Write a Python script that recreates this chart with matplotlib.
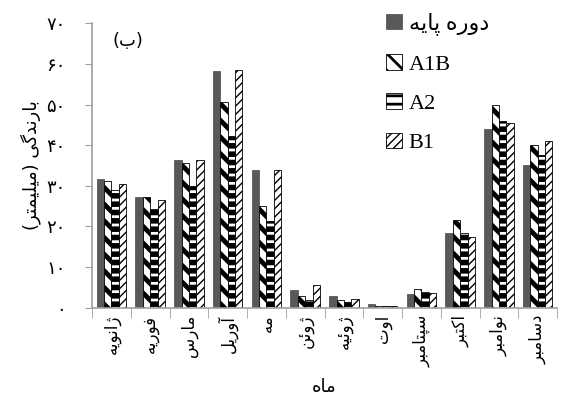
import numpy as np
import matplotlib.pyplot as plt
from matplotlib.patches import Patch

# simple Persian shaping (matplotlib has no RTL / joining support)
forms = {
    'ا': ('\uFE8D', '\uFE8E', None, None),
    'آ': ('\uFE81', '\uFE82', None, None),
    'ب': ('\uFE8F', '\uFE90', '\uFE91', '\uFE92'),
    'پ': ('\uFB56', '\uFB57', '\uFB58', '\uFB59'),
    'ت': ('\uFE95', '\uFE96', '\uFE97', '\uFE98'),
    'ث': ('\uFE99', '\uFE9A', '\uFE9B', '\uFE9C'),
    'د': ('\uFEA9', '\uFEAA', None, None),
    'ر': ('\uFEAD', '\uFEAE', None, None),
    'ز': ('\uFEAF', '\uFEB0', None, None),
    'ژ': ('\uFB8A', '\uFB8B', None, None),
    'س': ('\uFEB1', '\uFEB2', '\uFEB3', '\uFEB4'),
    'ف': ('\uFED1', '\uFED2', '\uFED3', '\uFED4'),
    'ک': ('\uFB8E', '\uFB8F', '\uFB90', '\uFB91'),
    'گ': ('\uFB92', '\uFB93', '\uFB94', '\uFB95'),
    'ل': ('\uFEDD', '\uFEDE', '\uFEDF', '\uFEE0'),
    'م': ('\uFEE1', '\uFEE2', '\uFEE3', '\uFEE4'),
    'ن': ('\uFEE5', '\uFEE6', '\uFEE7', '\uFEE8'),
    'و': ('\uFEED', '\uFEEE', None, None),
    'ه': ('\uFEE9', '\uFEEA', '\uFEEB', '\uFEEC'),
    'ی': ('\uFBFC', '\uFBFD', '\uFBFE', '\uFBFF'),
    'ئ': ('\uFE89', '\uFE8A', '\uFE8B', '\uFE8C'),
}


def fa(text):
    if not any(c in forms for c in text):
        return text
    out = []
    for i, c in enumerate(text):
        if c not in forms:
            out.append(c)
            continue
        prev = text[i - 1] if i > 0 else ''
        nxt = text[i + 1] if i + 1 < len(text) else ''
        j_prev = prev in forms and forms[prev][2] is not None
        j_next = forms[c][2] is not None and nxt in forms
        f = forms[c]
        if j_prev and j_next:
            out.append(f[3])
        elif j_prev:
            out.append(f[1])
        elif j_next:
            out.append(f[2])
        else:
            out.append(f[0])
    s = ''.join(out)[::-1]
    return s.translate(str.maketrans('()', ')('))


months = ['ژانویه', 'فوریه', 'مارس', 'آوریل', 'مه', 'ژوئن', 'ژوئیه', 'اوت',
          'سپتامبر', 'اکتبر', 'نوامبر', 'دسامبر']
base = [31.7, 27.3, 36.3, 58.2, 33.8, 4.3, 2.9, 0.8, 3.4, 18.4, 44.1, 35.1]
a1b = [31.2, 27.3, 35.7, 50.7, 25.0, 2.8, 1.9, 0.5, 4.7, 21.7, 50.0, 40.0]
a2 = [29.0, 24.4, 30.0, 42.4, 21.3, 1.9, 1.3, 0.4, 3.9, 18.5, 45.9, 37.6]
b1 = [30.5, 26.6, 36.3, 58.6, 34.0, 5.7, 2.1, 0.3, 3.6, 17.5, 45.6, 41.0]
yticks = [0, 10, 20, 30, 40, 50, 60, 70]
ytick_labels = ['۰', '۱۰', '۲۰', '۳۰', '۴۰', '۵۰', '۶۰', '۷۰']

plt.rcParams['font.family'] = ['Liberation Serif', 'DejaVu Sans']

fig = plt.figure(figsize=(5.61, 3.98), dpi=100)
ax = fig.add_axes([0.164, 0.227, 0.829, 0.714])

x = np.arange(len(months))
w = 0.19
series = [(base, None, '#595959', '#595959', 'دوره پایه', 1.0),
          (a1b, '\\\\', 'white', 'black', 'A1B', 3.5),
          (a2, '--', 'white', 'black', 'A2', 4.0),
          (b1, '////', 'white', 'black', 'B1', 1.0)]
handles = []
for k, (vals, hatch, fc, ec, name, hlw) in enumerate(series):
    bars = ax.bar(x + (k - 1.5) * w, vals, w, color=fc, edgecolor=ec,
                  hatch=hatch, linewidth=0.6)
    for b in bars:
        if hasattr(b, 'set_hatch_linewidth'):
            b.set_hatch_linewidth(hlw)
    handles.append(Patch(facecolor=fc, edgecolor=ec, hatch=hatch,
                         linewidth=0.6, label=fa(name)))

ax.set_xlim(-0.5, len(months) - 0.5)
ax.set_ylim(0, 70)
ax.set_yticks(yticks)
ax.set_yticklabels(ytick_labels, fontsize=13, family='DejaVu Sans')
ax.set_xticks(x)
ax.set_xticklabels([fa(m) for m in months], rotation=90, fontsize=12,
                   family='DejaVu Sans')
ax.set_xticks(np.arange(len(months) + 1) - 0.5, minor=True)
ax.tick_params(axis='x', which='major', length=0, pad=5)
ax.tick_params(axis='x', which='minor', length=7, color='#a0a0a0')
ax.tick_params(axis='y', length=5, color='#a0a0a0', pad=14)

for s in ['top', 'right']:
    ax.spines[s].set_visible(False)
for s in ['left', 'bottom']:
    ax.spines[s].set_color('#a0a0a0')
    ax.spines[s].set_linewidth(1.2)

ax.set_ylabel(fa('بارندگی (میلیمتر)'), fontsize=13, family='DejaVu Sans',
              labelpad=4)
ax.set_xlabel(fa('ماه'), fontsize=13, family='DejaVu Sans', labelpad=8)
ax.text(0.045, 0.92, fa('(ب)'), transform=ax.transAxes, fontsize=13,
        family='DejaVu Sans')

leg = ax.legend(handles=handles, loc='upper left',
                bbox_to_anchor=(0.59, 1.11), frameon=False, fontsize=16,
                handlelength=0.7, handleheight=0.7, handletextpad=0.3,
                labelspacing=0.85)
for p, s in zip(leg.get_patches(), series):
    if hasattr(p, 'set_hatch_linewidth'):
        p.set_hatch_linewidth(min(s[5], 2.0))

fig.savefig('out.png', dpi=100)
